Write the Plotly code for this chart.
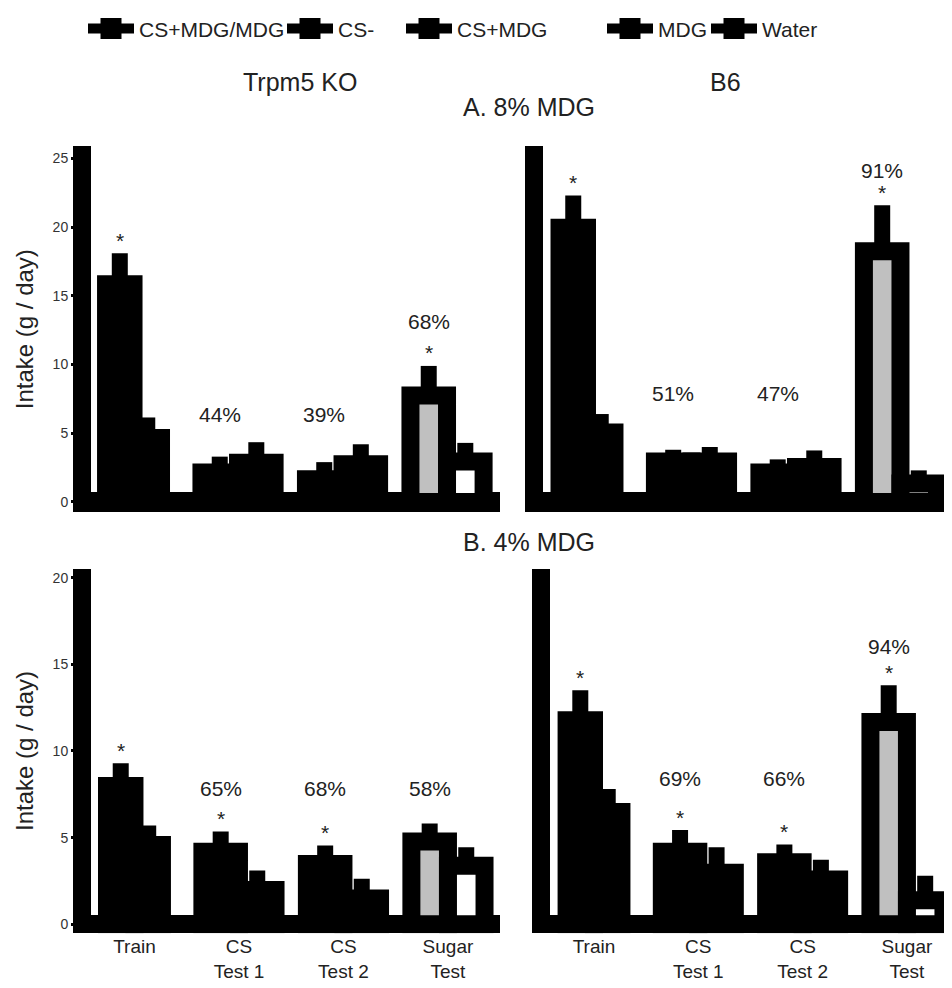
import plotly.graph_objects as go

# ---------------- data ----------------
groups = ["Train", "CS<br>Test 1", "CS<br>Test 2", "Sugar<br>Test"]
group_pos = [0, 1, 2, 3]

# Panel A (8% MDG) - Trpm5 KO
ko8_csplus = [15.85, 2.15, 1.65, 7.75]
ko8_csplus_err = [2.25, 1.15, 1.25, 2.15]
ko8_csminus = [4.65, 2.85, 2.75, 2.95]
ko8_csminus_err = [1.50, 1.50, 1.45, 1.35]
ko8_pct = [None, "44%", "39%", "68%"]
ko8_sig = [True, False, False, True]

# Panel A (8% MDG) - B6
b6_8_csplus = [19.95, 2.95, 2.15, 18.25]
b6_8_csplus_err = [2.35, 0.85, 0.95, 3.35]
b6_8_csminus = [5.05, 2.95, 2.55, 1.35]
b6_8_csminus_err = [1.35, 1.05, 1.20, 0.95]
b6_8_pct = [None, "51%", "47%", "91%"]
b6_8_sig = [True, False, False, True]

# Panel B (4% MDG) - Trpm5 KO
ko4_csplus = [7.98, 4.18, 3.48, 4.78]
ko4_csplus_err = [1.32, 1.18, 1.06, 1.04]
ko4_csminus = [4.58, 1.98, 1.48, 3.38]
ko4_csminus_err = [1.12, 1.12, 1.14, 1.06]
ko4_pct = [None, "65%", "68%", "58%"]
ko4_sig = [True, True, True, False]

# Panel B (4% MDG) - B6
b6_4_csplus = [11.78, 4.18, 3.58, 11.68]
b6_4_csplus_err = [1.72, 1.26, 1.02, 2.12]
b6_4_csminus = [6.48, 2.98, 2.58, 1.38]
b6_4_csminus_err = [1.32, 1.46, 1.14, 1.42]
b6_4_pct = [None, "69%", "66%", "94%"]
b6_4_sig = [True, True, True, True]

legend_names = ["CS+MDG/MDG", "CS-", "CS+MDG", "MDG", "Water"]

# ---------------- style / layout ----------------
PAGE_OFS = 8          # default body margin of the html page
W, H = 952 - PAGE_OFS, 988 - PAGE_OFS
FONT = "Liberation Sans, Arial, sans-serif"
TXT = "#222222"
BAR_W = [0.263, 0.35, 0.35, 0.35]   # bar widths per group (axis units)
OUTLINE = 18
ERR_T = 16
LEG_ITEM_W = 46

plus_colors = ["black", "black", "black", "#c0c0c0"]
minus_colors = ["black", "black", "black", "white"]

def px_x(p):
    return (p - PAGE_OFS) / W

def px_y(p):
    return 1 - (p - PAGE_OFS) / H

panels = [
    dict(xa="x", ya="y", plus=ko8_csplus, pe=ko8_csplus_err, minus=ko8_csminus, me=ko8_csminus_err,
         pct=ko8_pct, sig=ko8_sig, pct_y=[None, 6.2, 6.2, 13.0]),
    dict(xa="x2", ya="y2", plus=b6_8_csplus, pe=b6_8_csplus_err, minus=b6_8_csminus, me=b6_8_csminus_err,
         pct=b6_8_pct, sig=b6_8_sig, pct_y=[None, 7.75, 7.75, 24.0]),
    dict(xa="x3", ya="y3", plus=ko4_csplus, pe=ko4_csplus_err, minus=ko4_csminus, me=ko4_csminus_err,
         pct=ko4_pct, sig=ko4_sig, pct_y=[None, 7.7, 7.7, 7.7]),
    dict(xa="x4", ya="y4", plus=b6_4_csplus, pe=b6_4_csplus_err, minus=b6_4_csminus, me=b6_4_csminus_err,
         pct=b6_4_pct, sig=b6_4_sig, pct_y=[None, 8.3, 8.3, 15.9]),
]

fig = go.Figure()
annotations = []

for p in panels:
    for vals, errs, cols, nm, offs in [
        (p["plus"], p["pe"], plus_colors, "CS+", [-w for w in BAR_W]),
        (p["minus"], p["me"], minus_colors, "CS-", [0.0 for w in BAR_W]),
    ]:
        fig.add_trace(go.Bar(
            x=group_pos, y=vals, name=nm, showlegend=False,
            xaxis=p["xa"], yaxis=p["ya"], width=BAR_W, offset=offs,
            marker=dict(color=cols, line=dict(color="black", width=OUTLINE)),
            error_y=dict(type="data", symmetric=False, array=errs,
                         arrayminus=[0] * len(errs), thickness=ERR_T, width=0, color="black"),
        ))
    for i in range(len(group_pos)):
        top = p["plus"][i] + p["pe"][i]
        xc = group_pos[i] - BAR_W[i] / 2
        if p["sig"][i]:
            annotations.append(dict(xref=p["xa"], yref=p["ya"], x=xc, y=top,
                                    text="*", showarrow=False, yanchor="middle", yshift=13,
                                    font=dict(size=21, family=FONT, color=TXT)))
        if p["pct"][i]:
            annotations.append(dict(xref=p["xa"], yref=p["ya"], x=xc, y=p["pct_y"][i],
                                    text=p["pct"][i], showarrow=False, yanchor="middle", yshift=2,
                                    font=dict(size=21, family=FONT, color=TXT)))

# legend-only entries, each in its own legend box
legend_text_x = [139, 338, 457, 658, 762]
legend_keys = ["legend", "legend2", "legend3", "legend4", "legend5"]
for nm, key in zip(legend_names, legend_keys):
    fig.add_trace(go.Scatter(
        x=[None], y=[None], name=nm, mode="lines+markers", legend=key,
        line=dict(color="black", width=10),
        marker=dict(symbol="square", size=16, color="black", line=dict(color="black", width=5)),
        showlegend=True,
    ))

legend_layouts = {}
for key, tx in zip(legend_keys, legend_text_x):
    legend_layouts[key] = dict(
        x=px_x(tx - LEG_ITEM_W - 10), y=px_y(25), xanchor="left", yanchor="middle",
        orientation="h", bgcolor="rgba(0,0,0,0)", borderwidth=0, itemwidth=LEG_ITEM_W,
        font=dict(size=21, family=FONT, color=TXT),
    )

# titles
for txt, cx, cy in [("Trpm5 KO", 300, 78), ("B6", 725, 78),
                    ("A. 8% MDG", 529, 103), ("B. 4% MDG", 529, 540)]:
    annotations.append(dict(xref="paper", yref="paper", x=px_x(cx), y=px_y(cy), text=txt,
                            showarrow=False, xanchor="center", yanchor="middle",
                            font=dict(size=25, family=FONT, color=TXT)))

def xax(dom, rng, labels):
    return dict(domain=dom, range=rng, tickvals=group_pos, ticktext=groups,
                showticklabels=labels, showgrid=False, zeroline=False, showline=False,
                ticks="", tickfont=dict(size=19, family=FONT, color=TXT), fixedrange=True)

def yax(dom, rng, tv, labels, title, zw):
    d = dict(domain=dom, range=rng, tickvals=tv, showticklabels=labels, showgrid=False,
             zeroline=True, zerolinecolor="black", zerolinewidth=zw,
             showline=True, linecolor="black", linewidth=18,
             ticks="outside" if labels else "", ticklen=2, tickwidth=3, tickcolor="black",
             tickfont=dict(size=14, family=FONT, color="#333333"), fixedrange=True)
    if title:
        d["title"] = dict(text="Intake (g / day)", font=dict(size=24, family=FONT, color=TXT), standoff=20)
    return d

top_dom = [px_y(510), px_y(143)]
bot_dom = [px_y(933), px_y(567)]

fig.update_layout(
    width=W, height=H, autosize=False,
    margin=dict(l=0, r=0, t=0, b=0),
    paper_bgcolor="white", plot_bgcolor="white",
    barmode="overlay",
    font=dict(family=FONT, color=TXT),
    xaxis=dict(anchor="y", **xax([px_x(91), px_x(500)], [-0.407, 3.507], False)),
    yaxis=dict(anchor="x", **yax(top_dom, [-0.725, 25.87], [0, 5, 10, 15, 20, 25], True, True, 20)),
    xaxis2=dict(anchor="y2", **xax([px_x(543), 1.0], [-0.421, 3.493], False)),
    yaxis2=dict(anchor="x2", **yax(top_dom, [-0.725, 25.87], [0, 5, 10, 15, 20, 25], False, False, 20)),
    xaxis3=dict(anchor="y3", **xax([px_x(91), px_x(500)], [-0.416, 3.498], True)),
    yaxis3=dict(anchor="x3", **yax(bot_dom, [-0.517, 20.52], [0, 5, 10, 15, 20], True, True, 18)),
    xaxis4=dict(anchor="y4", **xax([px_x(550), 1.0], [-0.422, 3.432], True)),
    yaxis4=dict(anchor="x4", **yax(bot_dom, [-0.517, 20.52], [0, 5, 10, 15, 20], False, False, 18)),
    annotations=annotations,
    **legend_layouts,
)

fig.write_html("out.html")
